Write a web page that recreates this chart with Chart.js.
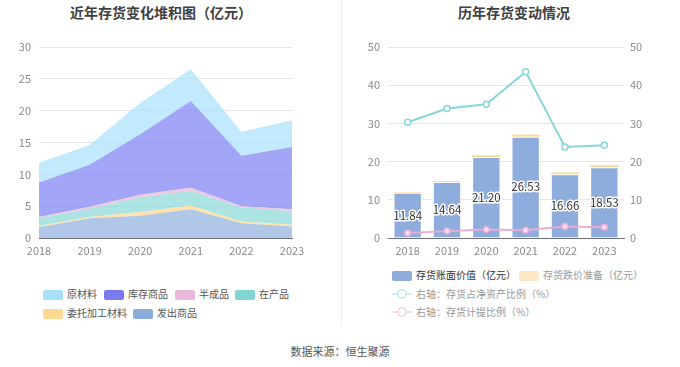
<!DOCTYPE html>
<html>
<head>
<meta charset="utf-8">
<script src="https://cdn.jsdelivr.net/npm/chart.js"></script>
<style>
  body { margin: 0; width: 680px; height: 367px; background: #fff; position: relative; overflow: hidden;
         font-family: "Noto Sans CJK SC", "Noto Sans", sans-serif; }
  .title { position: absolute; top: 2px; font-size: 14px; font-weight: bold; color: #404040; text-align: center; }
  .divider { position: absolute; left: 341px; top: 0; width: 1px; height: 325px; background: #eeeeee; }
  .box { position: absolute; }
  .legend { position: absolute; font-size: 10px; color: #555; }
  .item { position: absolute; white-space: nowrap; line-height: 14px; }
  .sw { display: inline-block; width: 20px; height: 10px; border-radius: 2px; vertical-align: -2px; margin-right: 4px; }
  .footer { position: absolute; top: 343px; left: 0; width: 680px; text-align: center; font-size: 11px; color: #555; }
</style>
</head>
<body>
<div class="title" style="left:0;width:322px;">近年存货变化堆积图（亿元）</div>
<div class="title" style="left:344px;width:340px;">历年存货变动情况</div>
<div class="divider"></div>

<div class="box" style="left:0;top:30px;width:340px;height:235px;"><canvas id="left"></canvas></div>
<div class="box" style="left:340px;top:30px;width:340px;height:235px;"><canvas id="right"></canvas></div>

<div class="legend" id="legendLeft"></div>
<div class="legend" id="legendRight"></div>

<div class="footer">数据来源：恒生聚源</div>

<script>
// ---- data ----
const years = ['2018', '2019', '2020', '2021', '2022', '2023'];

// stacked inventory parts (亿元), bottom to top
const faChuShangPin = [1.7, 3.1, 3.5, 4.5, 2.3, 1.8];   // 发出商品
const weiTuoJiaGong = [0.2, 0.2, 0.6, 0.6, 0.3, 0.3];   // 委托加工材料
const zaiChanPin    = [1.2, 1.3, 2.3, 2.3, 2.2, 2.1];   // 在产品
const banChengPin   = [0.2, 0.3, 0.4, 0.5, 0.2, 0.3];   // 半成品
const kuCunShangPin = [5.4, 6.6, 9.5, 13.6, 7.9, 9.8];  // 库存商品
const yuanCaiLiao   = [3.1, 3.1, 4.9, 5.0, 3.8, 4.2];   // 原材料

// right chart
const bookValue     = [11.84, 14.64, 21.20, 26.53, 16.66, 18.53]; // 存货账面价值
const provision     = [0.16, 0.27, 0.48, 0.54, 0.52, 0.53];       // 存货跌价准备
const ratioNetAsset = [30.3, 33.9, 35.0, 43.5, 23.8, 24.3];       // 存货占净资产比例 %
const ratioProvision = [1.3, 1.8, 2.2, 2.0, 3.0, 2.8];            // 存货计提比例 %

const leftTicks = [0, 5, 10, 15, 20, 25, 30];
const rightTicks = [0, 10, 20, 30, 40, 50];

// ---- styling ----
const tickColor = '#8a8a8a';
const gridColor = '#e3e6f0';
const tickFont = { size: 11, family: '"Noto Sans CJK SC", sans-serif' };

function area(label, data, color, fill) {
    return {
        label: label,
        data: data,
        backgroundColor: color,
        borderWidth: 0,
        pointRadius: 0,
        tension: 0,
        fill: fill
    };
}

new Chart(document.getElementById('left'), {
    type: 'line',
    data: {
        labels: years,
        datasets: [
            area('发出商品', faChuShangPin, 'rgba(138,173,220,0.68)', 'origin'),
            area('委托加工材料', weiTuoJiaGong, 'rgba(255,216,144,0.75)', '-1'),
            area('在产品', zaiChanPin, 'rgba(128,212,212,0.65)', '-1'),
            area('半成品', banChengPin, 'rgba(232,184,216,0.75)', '-1'),
            area('库存商品', kuCunShangPin, 'rgba(120,122,242,0.68)', '-1'),
            area('原材料', yuanCaiLiao, 'rgba(167,224,250,0.68)', '-1')
        ]
    },
    options: {
        responsive: true,
        maintainAspectRatio: false,
        animation: false,
        layout: { padding: { top: 17, right: 48, bottom: 0, left: 0 } },
        plugins: { legend: { display: false }, tooltip: { enabled: false } },
        scales: {
            x: {
                offset: false,
                grid: { display: false, drawTicks: true, tickLength: 4, tickColor: '#6e7079' },
                border: { display: true, color: '#6e7079' },
                ticks: { color: tickColor, font: tickFont, padding: 2, maxRotation: 0 },
                afterFit: function (s) { s.height = 27; }
            },
            y: {
                stacked: true,
                min: 0, max: 30,
                afterBuildTicks: function (s) { s.ticks = leftTicks.map(v => ({ value: v })); },
                grid: { color: gridColor, drawTicks: false },
                border: { display: false },
                ticks: { color: tickColor, font: tickFont, padding: 8 },
                afterFit: function (s) { s.width = 39; }
            }
        }
    }
});

// value labels inside the book-value bars
const barLabels = {
    id: 'barLabels',
    afterDatasetsDraw(chart) {
        const ctx = chart.ctx;
        const meta = chart.getDatasetMeta(0);
        ctx.save();
        ctx.font = '11.5px "Noto Sans CJK SC", sans-serif';
        ctx.textAlign = 'center';
        ctx.textBaseline = 'middle';
        ctx.lineJoin = 'round';
        meta.data.forEach(function (bar, i) {
            const y = (bar.y + bar.base) / 2;
            const txt = bookValue[i].toFixed(2);
            ctx.lineWidth = 3;
            ctx.strokeStyle = '#ffffff';
            ctx.strokeText(txt, bar.x, y);
            ctx.fillStyle = '#333333';
            ctx.fillText(txt, bar.x, y);
        });
        ctx.restore();
    }
};

new Chart(document.getElementById('right'), {
    type: 'bar',
    data: {
        labels: years,
        datasets: [
            {
                label: '存货账面价值（亿元）', data: bookValue, yAxisID: 'y', stack: 's', order: 2,
                backgroundColor: '#8eacdc', borderColor: '#ffffff', borderWidth: { top: 1, left: 1, right: 1, bottom: 0 },
                categoryPercentage: 0.72, barPercentage: 1
            },
            {
                label: '存货跌价准备（亿元）', data: provision, yAxisID: 'y', stack: 's', order: 2,
                backgroundColor: '#fcd996', borderWidth: 0,
                categoryPercentage: 0.72, barPercentage: 1
            },
            {
                type: 'line', label: '右轴：存货占净资产比例（%）', data: ratioNetAsset, yAxisID: 'y1', order: 0,
                borderColor: '#86d6da', borderWidth: 2, tension: 0,
                pointRadius: 3, pointBorderWidth: 1.5, pointBackgroundColor: '#ffffff', pointBorderColor: '#86d6da'
            },
            {
                type: 'line', label: '右轴：存货计提比例（%）', data: ratioProvision, yAxisID: 'y1', order: 0,
                borderColor: '#e8aed6', borderWidth: 2, tension: 0,
                pointRadius: 3, pointBorderWidth: 1.5, pointBackgroundColor: '#f6dcee', pointBorderColor: '#e8aed6'
            }
        ]
    },
    options: {
        responsive: true,
        maintainAspectRatio: false,
        animation: false,
        layout: { padding: { top: 17, right: 0, bottom: 0, left: 0 } },
        plugins: { legend: { display: false }, tooltip: { enabled: false } },
        scales: {
            x: {
                stacked: true,
                grid: { display: false, drawTicks: false },
                border: { display: true, color: '#6e7079' },
                ticks: { color: tickColor, font: tickFont, padding: 6, maxRotation: 0 },
                afterFit: function (s) { s.height = 27; }
            },
            y: {
                stacked: true,
                position: 'left',
                min: 0, max: 50,
                afterBuildTicks: function (s) { s.ticks = rightTicks.map(v => ({ value: v })); },
                grid: { color: gridColor, drawTicks: false },
                border: { display: false },
                ticks: { color: tickColor, font: tickFont, padding: 8 },
                afterFit: function (s) { s.width = 48; }
            },
            y1: {
                position: 'right',
                min: 0, max: 50,
                afterBuildTicks: function (s) { s.ticks = rightTicks.map(v => ({ value: v })); },
                grid: { display: false, drawTicks: false },
                border: { display: false },
                ticks: { color: tickColor, font: tickFont, padding: 6 },
                afterFit: function (s) { s.width = 56; }
            }
        }
    },
    plugins: [barLabels]
});

// ---- legends ----
const leftLegend = [
    ['原材料', '#a8e0fa', 43, 287],
    ['库存商品', '#7b7bf0', 104, 287],
    ['半成品', '#e8b8d8', 175, 287],
    ['在产品', '#80d4d4', 235, 287],
    ['委托加工材料', '#ffd893', 43, 306],
    ['发出商品', '#8aaddc', 133, 306]
];
const ll = document.getElementById('legendLeft');
leftLegend.forEach(function (it) {
    const d = document.createElement('div');
    d.className = 'item';
    d.style.left = it[2] + 'px';
    d.style.top = it[3] + 'px';
    d.innerHTML = '<span class="sw" style="background:' + it[1] + '"></span>' + it[0];
    ll.appendChild(d);
});

function lineIcon(color) {
    return '<svg width="20" height="12" style="vertical-align:-2px;margin-right:4px">' +
        '<line x1="0" y1="6" x2="20" y2="6" stroke="' + color + '" stroke-width="1.5"/>' +
        '<circle cx="10" cy="6" r="4.2" fill="#fff" stroke="' + color + '" stroke-width="1.5"/></svg>';
}
const rightLegend = [
    ['<span class="sw" style="background:#8eacdc"></span>', '存货账面价值（亿元）', '#333', 392, 268],
    ['<span class="sw" style="background:#fde8c6"></span>', '存货跌价准备（亿元）', '#999', 519, 268],
    [lineIcon('#bfe9ec'), '右轴：存货占净资产比例（%）', '#999', 392, 287],
    [lineIcon('#f4d3e9'), '右轴：存货计提比例（%）', '#999', 392, 305]
];
const rl = document.getElementById('legendRight');
rightLegend.forEach(function (it) {
    const d = document.createElement('div');
    d.className = 'item';
    d.style.left = it[3] + 'px';
    d.style.top = it[4] + 'px';
    d.style.color = it[2];
    d.innerHTML = it[0] + it[1];
    rl.appendChild(d);
});
</script>
</body>
</html>
